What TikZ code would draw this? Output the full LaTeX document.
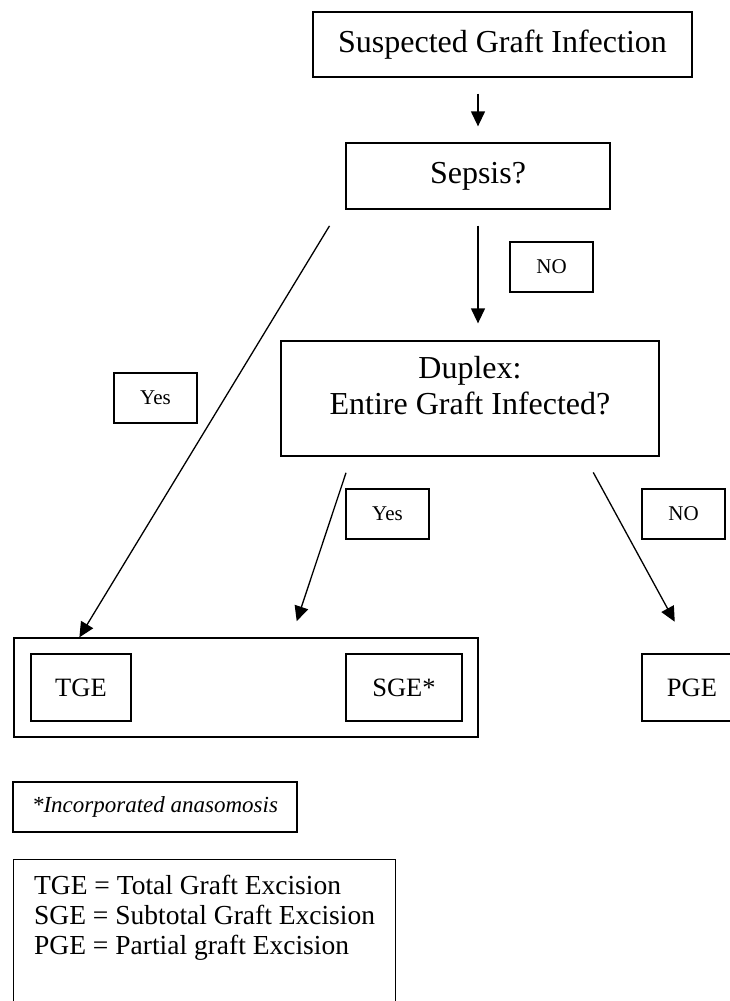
\documentclass[tikz,border=0pt]{standalone}
\usepackage{fontspec}
\setmainfont{Liberation Serif}
\usetikzlibrary{arrows.meta, positioning, calc}

\begin{document}
\begin{tikzpicture}[
    x=1pt, y=-1pt,
    >={Triangle[length=15pt,width=14pt]},
    line width=1.3pt,
    bigbox/.style={draw, font=\fontsize{32}{36}\selectfont, align=center, inner sep=0pt},
    ansbox/.style={draw, minimum width=83pt, minimum height=50pt, font=\fontsize{21}{24}\selectfont, inner sep=0pt},
    exbox/.style={draw, minimum height=67pt, font=\fontsize{26.5}{30}\selectfont, inner sep=0pt},
    arr/.style={->, line width=1.3pt},
]
\useasboundingbox (0,0) rectangle (730,1001);
\clip (0,0) rectangle (730,1001);
% ----- questions
\node[bigbox, minimum width=379pt, minimum height=65pt] (susp) at (502.5,44.5) {Suspected Graft Infection};
\node[bigbox, minimum width=264pt, minimum height=66pt] (sepsis) at (478,176) {Sepsis?};
\node[bigbox, minimum width=378pt, minimum height=115pt] (duplex) at (470,398.5) {Duplex:\\Entire Graft Infected?\rule[-26pt]{0pt}{0pt}};
% ----- answers
\node[ansbox] (no1) at (551.5,267) {NO};
\node[ansbox] (yes1) at (155.5,398) {Yes};
\node[ansbox] (yes2) at (387.5,514) {Yes};
\node[ansbox] (no2) at (683.5,514) {NO};
% ----- outcomes
\node[draw, minimum width=464pt, minimum height=99pt] (grp) at (246,687.5) {};
\node[exbox, minimum width=100pt] (tge) at (81,687.5) {TGE};
\node[exbox, minimum width=116pt] (sge) at (404,687.5) {SGE*};
\node[exbox, minimum width=100pt] (pge) at (692,687.5) {PGE};
% ----- arrows
\draw[arr, shorten <=16pt, shorten >=16pt] (sepsis.north |- susp.south) -- (sepsis.north);
\draw[arr, shorten <=16pt, shorten >=17pt] (sepsis.south) -- (sepsis.south |- duplex.north);
\draw[arr, shorten <=19pt] ([xshift=-6pt]sepsis.south west) -- ([xshift=66pt]grp.north west);
\draw[arr, shorten <=17pt, shorten >=17pt] ([xshift=71pt]duplex.south west) -- ([xshift=278pt]grp.north west);
\draw[arr, shorten <=18pt, shorten >=36pt] ([xshift=-75pt]duplex.south east) -- (pge.north);
% ----- notes
\node[draw, minimum width=284pt, minimum height=50pt, font=\fontsize{23}{27}\selectfont\itshape] (note) at (155,807) {*Incorporated anasomosis};
\node[draw, anchor=north west, align=left, inner xsep=20.5pt, inner ysep=15pt, font=\fontsize{27.5}{30}\selectfont] (legend) at (13,859) {TGE = Total Graft Excision\\SGE = Subtotal Graft Excision\\PGE = Partial graft Excision\\\rule{0pt}{70pt}};
\end{tikzpicture}
\end{document}
